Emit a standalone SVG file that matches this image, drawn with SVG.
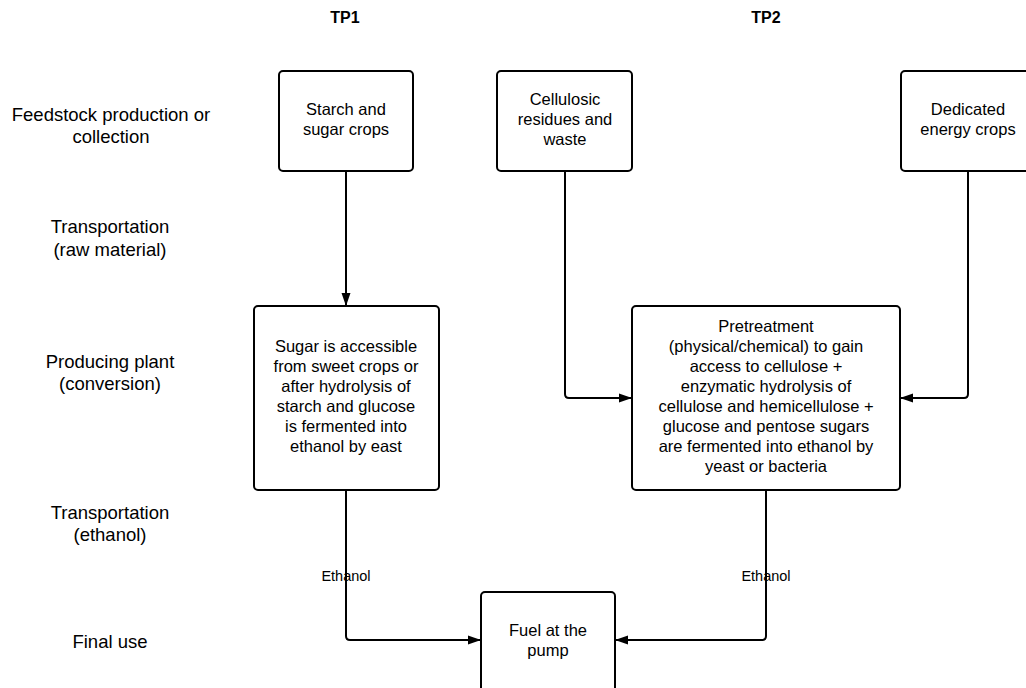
<svg xmlns="http://www.w3.org/2000/svg" width="1026" height="688" viewBox="0 0 1026 688">
<style>
.box{fill:#fff;stroke:#000;stroke-width:2}
.bt{font-family:"Liberation Sans",Arial,sans-serif;font-size:16.5px;text-anchor:middle;fill:#000}
.lt{font-family:"Liberation Sans",Arial,sans-serif;font-size:18.5px;text-anchor:middle;fill:#000}
.hd{font-family:"Liberation Sans",Arial,sans-serif;font-size:16px;font-weight:bold;text-anchor:middle;fill:#000}
.et{font-family:"Liberation Sans",Arial,sans-serif;font-size:14.5px;text-anchor:middle;fill:#000}
.cn{fill:none;stroke:#000;stroke-width:2;marker-end:url(#ah)}
.cn2{fill:none;stroke:#000;stroke-width:2}
</style>
<defs>
<marker id="ah" markerUnits="userSpaceOnUse" markerWidth="14" markerHeight="10" refX="13" refY="5" orient="auto">
<path d="M0,0.5 L13,5 L0,9.5 z" fill="#000"/>
</marker>
</defs>
<rect width="1026" height="688" fill="#fff"/>
<g id="headers">
<text class="hd" x="345" y="23">TP1</text>
<text class="hd" x="766" y="23">TP2</text>
</g>
<g id="row-labels">
<text class="lt" x="111" y="121">Feedstock production or</text>
<text class="lt" x="111" y="143">collection</text>
<text class="lt" x="110" y="233">Transportation</text>
<text class="lt" x="110" y="256">(raw material)</text>
<text class="lt" x="110" y="368">Producing plant</text>
<text class="lt" x="110" y="390">(conversion)</text>
<text class="lt" x="110" y="519">Transportation</text>
<text class="lt" x="110" y="541">(ethanol)</text>
<text class="lt" x="110" y="648">Final use</text>
</g>
<g id="connectors">
<path class="cn" d="M346,171 V306"/>
<path class="cn" d="M565,171 V394 Q565,398 569,398 H632"/>
<path class="cn" d="M968,171 V394 Q968,398 964,398 H900"/>
<path class="cn" d="M346,490 V636 Q346,640 350,640 H481"/>
<path class="cn" d="M766,490 V636 Q766,640 762,640 H615"/>
<text class="et" x="346" y="581">Ethanol</text>
<text class="et" x="766" y="581">Ethanol</text>
</g>
<g id="starch">
<rect class="box" x="279" y="71" width="134" height="100" rx="4"/>
<text class="bt" x="346" y="115">Starch and</text>
<text class="bt" x="346" y="135">sugar crops</text>
</g>
<g id="cellulosic">
<rect class="box" x="497" y="71" width="135" height="100" rx="4"/>
<text class="bt" x="565" y="105">Cellulosic</text>
<text class="bt" x="565" y="125">residues and</text>
<text class="bt" x="565" y="145">waste</text>
</g>
<g id="dedicated">
<rect class="box" x="901" y="71" width="135" height="100" rx="4"/>
<text class="bt" x="968" y="115">Dedicated</text>
<text class="bt" x="968" y="135">energy crops</text>
</g>
<g id="sugar">
<rect class="box" x="254" y="306" width="185" height="184" rx="4"/>
<text class="bt" x="346" y="352">Sugar is accessible</text>
<text class="bt" x="346" y="372">from sweet crops or</text>
<text class="bt" x="346" y="392">after hydrolysis of</text>
<text class="bt" x="346" y="412">starch and glucose</text>
<text class="bt" x="346" y="432">is fermented into</text>
<text class="bt" x="346" y="452">ethanol by east</text>
</g>
<g id="pretreatment">
<rect class="box" x="632" y="306" width="268" height="184" rx="4"/>
<text class="bt" x="766" y="332">Pretreatment</text>
<text class="bt" x="766" y="352">(physical/chemical) to gain</text>
<text class="bt" x="766" y="372">access to cellulose +</text>
<text class="bt" x="766" y="392">enzymatic hydrolysis of</text>
<text class="bt" x="766" y="412">cellulose and hemicellulose +</text>
<text class="bt" x="766" y="432">glucose and pentose sugars</text>
<text class="bt" x="766" y="452">are fermented into ethanol by</text>
<text class="bt" x="766" y="472">yeast or bacteria</text>
</g>
<g id="fuel">
<rect class="box" x="481" y="592" width="134" height="110" rx="4"/>
<text class="bt" x="548" y="636">Fuel at the</text>
<text class="bt" x="548" y="656">pump</text>
</g>
</svg>
